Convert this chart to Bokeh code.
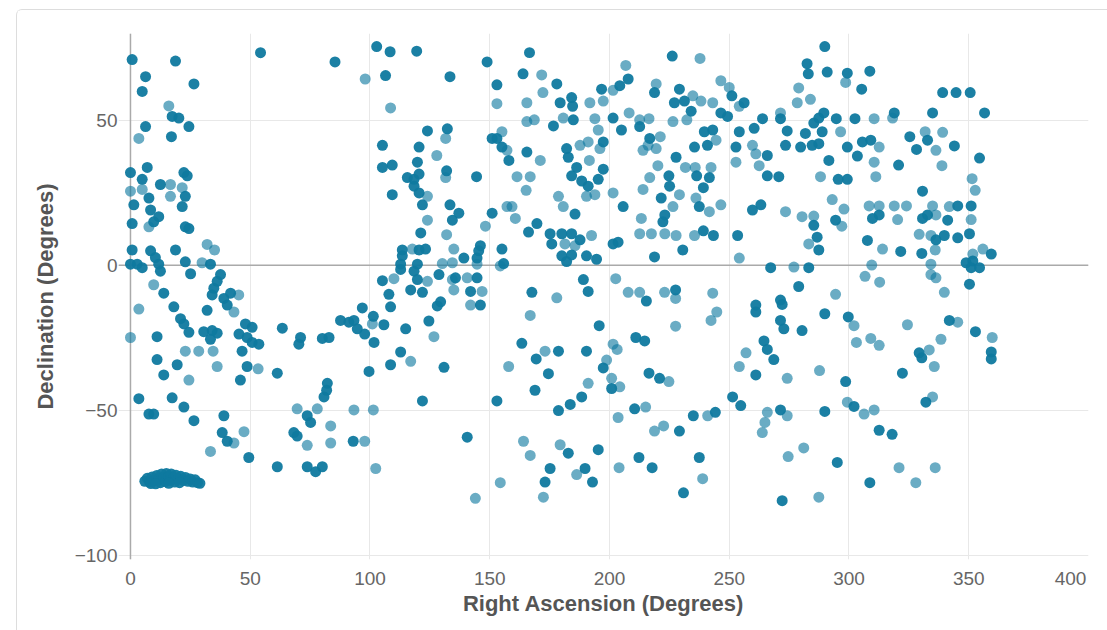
from bokeh.plotting import figure
from bokeh.models import FixedTicker, Span, ColumnDataSource, Spacer
from bokeh.layouts import column, row
from bokeh.embed import file_html
from bokeh.resources import INLINE

# ---- data: Right Ascension / Declination (degrees) ----
# dark (opaque) stars
ra_dark = [0.7, 18.8, 54.3, 85.4, 102.8, 108.4, 119.5, 106.5, 133.4, 6.3, 4.9, 26.5, 17.4, 20.2, 24.4, 6.3, 17.1, 124, 132.3,
           105.2, 120.5, 105.2, 109.3, 119.8, 115.6, 118.4, 120.5, 132, 118.4, 109.3, 120.5, 121.9, 133.4, 134.4, 121.2, 113.5,
           120.5, 123.2, 113.5, 112.8, 119.8, 112.8, 118.4, 128.8, 105.2, 119.8, 117, 121.9, 107.9, 108.6, 129.5, 128.1, 124.6,
           96.8, 101.4, 105.8, 87.7, 91.2, 93.3, 94.7, 97.8, 101.7, 114.9, 112.8, 108.6, 130.9, 99.6, 121.9, 93,
           0, 1.4, 0.7, 0.7, 0, 2.8, 4.9, 7, 4.9, 7.7, 8.4, 11.8, 9.7, 12.5, 22.3, 23.7, 22.9, 21.6, 22.9, 24.4, 8.4, 10.4, 11.8,
           12.5, 18.8, 22.9, 25.1, 33.4, 37.6, 36.2, 34.8, 34.1, 39, 41.8, 40.4, 32, 13.9, 18.1, 20.9, 22.3, 24.4, 30.6, 34.1,
           36.2, 33.4, 45.3, 48, 50.8, 48.7, 50.8, 53.6, 46.6, 48.7, 45.9, 63.4, 71, 70.3, 80.1, 82.9, 61.3, 11.1, 11.1, 19.5,
           13.9, 3.5, 7.7, 9.7, 17.4, 22.3, 26.5, 39, 38.3, 40.4, 49.4, 61.3, 82.2, 81.9, 80.8, 73.8, 75.2, 68.2, 69.6, 73.8,
           77.3, 80.1,
           6, 7, 8, 9, 10, 11, 12, 12.5, 13, 14, 14.5, 15, 16, 16.5, 17, 18, 18.5, 19, 20, 21, 22, 23, 24, 25, 26, 27, 28, 29,
           8.5, 10.5, 20.5, 16,
           148.9, 166.6, 163.9, 153, 178, 179.4, 184.2, 184.6, 176.6, 184.9, 196.7, 204.3, 207.8, 201.5, 205, 212.6, 218.8,
           226.2, 229.2, 227.1, 231.3, 234.1, 251.1, 256.2, 246.5, 249.3, 239.6, 243.1, 240.9, 235.5, 254.2, 260.4, 263.9,
           252.8, 265.9, 265.9, 259.7, 263.2, 253.5, 267.3, 216.8, 227.8, 224.8, 225.1, 236.4, 241.7, 239.2, 221.6, 237.5,
           223.1, 222.3, 239.2, 243.4, 230.6, 218.8, 205.7, 185.6, 182.1, 182.8, 186.3, 184.2, 188.4, 197.4, 197.4, 195.3,
           191.1, 165.5, 153, 151, 155.1, 158, 144.5, 151, 166.2, 169.7, 175.2, 180.1, 184.2, 187.7, 175.9, 180.1, 182.1,
           184.2, 190.4, 194.6, 201.5, 203.6, 146.1, 145.4, 155.1, 155.8, 137.1, 139.2, 144.7, 135.7, 144.7, 142, 146.1,
           140.6, 153, 163.4, 169.4, 178.7, 174.5, 168.9, 167.6, 189.1, 191.1, 195.7, 190.4, 197.4, 200.9, 188.4, 183.6,
           178.7, 182.8, 195.3, 175.2, 173.1, 189.8, 192.9, 227.6, 215.4, 211, 214.7, 216.5, 220.9, 210.5, 229.2, 235,
           244.2, 212.3, 217.8, 237.5, 230.9, 251.4, 254.8, 261.1, 264.5, 265.9, 261.1, 261.1,
           289.9, 282.5, 283, 290.9, 299.3, 308.7, 305.3, 339.1, 344.7, 350.6, 356.6, 334.9, 318.9, 302.5, 294.7, 289.5,
           287.4, 285.3, 271.4, 274.2, 273.5, 279.8, 281.8, 284.6, 287.4, 288.8, 299.3, 303.5, 305.6, 309.1, 291.6, 270.7,
           295.5, 299.3, 320.7, 325.4, 328.2, 332.8, 344, 354.5, 330.7, 285.3, 286.7, 287.4, 294.4, 312.6, 309.8, 307.7,
           321.6, 345.4, 351, 330.7, 332.8, 341.2, 336.3, 339.8, 345.4, 350.3, 330.4, 348.9, 351.7, 351, 354.5, 359.4,
           350.3, 283.2, 279, 271.4, 272.1, 271.4, 272.8, 268.6, 280.4, 289.9, 299.7, 341.9, 352.8, 359.4, 359.4, 329.3,
           330.4, 322.3, 298.6, 302.1, 332.1, 271.4, 289.9, 312.6, 318, 295.1, 308.7, 272.1]
dec_dark = [71, 70.5, 73.4, 70.2, 75.5, 73.7, 73.9, 65.5, 65.1, 65.1, 60, 62.6, 51.4, 50.8, 47.9, 47.9, 44.4, 46.4, 47.1,
            41.4, 40.8, 33.8, 34.6, 35.6, 30.3, 29.7, 31.5, 32.6, 27.3, 24.4, 25, 20.9, 20.9, 15.6, 11.2, 5.3,
            5.3, 5.6, 3.3, 0.4, 0.4, -1.4, -2, -3.2, -5.3, -4.9, -8.5, -9.3, -10, -14.3, -12.6, -14, -19.2,
            -14.7, -17.6, -20.5, -19, -19.6, -19, -21.9, -23.7, -26.6, -21.9, -29.9, -34.3, -35.2, -36.6, -46.8, -60.7,
            32, 20.9, 14.4, 5.3, 0.4, 0.4, -0.8, 33.8, 29.7, 23.2, 19.1, 16.8, 15, 27.9, 32, 30.9, 23.8, 20.3, 13.3, 12.7, 5, 2.7, 0.4,
            -2, 5.3, 1.2, -2.9, 0.4, -3.2, -5.5, -7.9, -10.2, -11.4, -9.6, -13.7, -15.5, -9.6, -14.3, -18.4, -20.2, -23.1, -22.9, -22.5,
            -23.4, -25.5, -23.7, -20.2, -21.4, -24.9, -26.6, -27.2, -29.6, -34.9, -39.6, -21.7, -24.9, -27.2, -25.2, -24.9, -37.2, -24.6, -32.5, -34.3,
            -37.8, -46, -51.3, -51.3, -45.7, -48.9, -53.6, -51.9, -57.7, -60.7, -66.3, -69.5, -40.7, -43.1, -45.4, -51.9, -54.2, -57.7, -58.9, -69.5,
            -71.2, -69.5,
            -74.5, -73.5, -74.8, -73, -74.2, -72.5, -73.6, -75, -72, -73.2, -74.6, -71.8, -72.8, -74.2, -72, -73.3, -74.8, -72.4, -73.6, -72.8,
            -74.2, -73.2, -74.5, -73.7, -74.8, -74, -75, -75.2,
            -75.3, -75.4, -75, -75.2,
            70.2, 73.4, 66.1, 62.3, 62.6, 56.1, 57.9, 54.9, 48.1, 50.2, 60.8, 62, 64.3, 50.8, 46.7, 47.9, 59.6,
            72.2, 60.8, 56.1, 56.7, 53.2, 58.5, 56.1, 52.6, 51.4, 46.1, 46.7, 41.4, 40.8, 46.1, 47.3, 50.6,
            40.8, 37.9, 30.9, 19.1, 20.9, 10.3, -0.8, 43.8, 37.3, 30.9, 27.3, 30.9, 30.3, 26.8, 23.2, 20.3,
            17.4, 15, 11.9, 10.3, 5.3, 2.9, 20.3, 17.7, 40.3, 37.3, 33.8, 30.9, 29.1, 42.6, 33.2, 29.7,
            27.3, 39.1, 43.8, 43.8, 40.8, 36.2, 30.6, 18, 11.5, 14.4, 10.9, 10.9, 10.9, 8.8, 7.4, 3.3, 1.3,
            3.6, 3.3, 2.1, 7.4, 8, 6.8, 5, 5.6, 0.6, 18, 2.5, 2.5, -4.3, -4.3, -9, -13.7,
            -59.3, -46.8, -26.9, -32.3, -29.6, -37.4, -43.1, -9.3, -4.9, -9, -20.8, -29.6, -35.4, -42.5, -45.4, -48,
            -50.1, -64.8, -63.6, -70.1, -74.8, -70.1, -74.8, -8.5, -12.3, -24.9, -26.1, -37.2, -39, -49.5, -57.2, -51.9,
            -50.7, -66.3, -69.8, -66.3, -78.5, -45.4, -48.4, -37.8, -26.1, -29, -13.7, -16.1,
            75.5, 69.6, 66.1, 66.7, 66.3, 67, 60.8, 59.6, 59.6, 59.6, 52.6, 52.6, 52.6, 50.6, 50.6, 52.6,
            50.8, 49.1, 50.6, 46.4, 41.4, 40.8, 45.5, 41.4, 42, 46.1, 40.8, 37.7, 42.6, 43.2, 36.2, 30.6,
            29.7, 29.7, 34.6, 44.4, 40, 43.2, 41.2, 37, 25.6, 13.8, 9.7, 5.3, 15.6, 17.4, 16.2, 8.6,
            4.8, 20.5, 20.5, 16.2, 17.4, 15.6, 8.8, 10.3, 9.5, 10.9, 4.1, 0.9, 1.5, -0.8, -0.8, 3.9,
            -6.5, -0.8, -7.3, -12, -13.5, -19, -21.9, -32.5, -22.5, -16.7, -17.8, -19, -22.9, -29.9, -32.3, -30.2,
            -31.9, -37.2, -40.1, -48.7, -47.2, -49.9, -50.4, -56.9, -58.3, -68, -75, -81.2]

# light (semi-transparent) stars
ra_light = [98, 108.6, 16, 3.5, 131.6, 127.9, 131.6, 124, 124, 132, 117.7, 135, 130.2, 134.4, 110, 124, 134.4, 135, 101,
            126.7, 117, 93.3, 101.4, 97.8, 102.4,
            0, 4.9, 7.7, 16.7, 21.6, 16.7, 32, 35.1, 29.9, 45.2, 43.2, 9.7, 3.5, 53.3, 0, 22.9, 28.5, 34.5, 36.2, 24.4, 43.2,
            47.4, 33.4, 69.6, 78, 83.6, 73.8, 83.6,
            171.7, 153, 172.2, 165.5, 165.5, 168.6, 180.7, 191.8, 197.4, 201.5, 206.8, 193.9, 195.3, 208.2, 212.6, 216.5,
            219.5, 237.8, 234.8, 238.2, 226.5, 232.3, 243.1, 246.5, 250, 254.2, 244.5, 259.7, 252.8, 261.1, 262.5, 254.2,
            216.1, 221.2, 214, 219.5, 220.2, 216.8, 231.7, 235.8, 242.4, 229.2, 214, 236.1, 241.7, 246.5, 226.5, 213.3,
            212.6, 217.5, 223.1, 227.8, 235.5, 201.5, 193.9, 190.4, 187.7, 191.1, 196, 191.6, 178.7, 180.7, 171.1, 161.4,
            166.9, 165.2, 155.1, 157.2, 157.2, 159.3, 160.7, 148.2, 181.4, 185.6, 192.5, 154.4, 144.7, 140.6, 146.8, 142,
            144, 154.4, 157.9, 173.1, 178, 166.9, 201.5, 203.2, 198.8, 200.9, 191.1, 204.3, 164.1, 166.9, 179.4, 172.4,
            186.3, 202.6, 207.8, 212.6, 223, 227.6, 243.1, 244.8, 242.4, 227.6, 224.8, 215.1, 203.6, 218.8, 222.6, 241,
            204, 238.9, 254.2, 257, 265.9, 264.9, 263.8,
            298.6, 279, 278.4, 283.9, 318.2, 310.5, 271.4, 296.5, 312.6, 310.5, 288.1, 311.2, 331.8, 339.1, 336.3, 338.8,
            351.4, 352.7, 273.5, 280.4, 285.3, 283.2, 293, 297.9, 297, 308.4, 312.6, 318.9, 324, 320.3, 314, 334.9,
            341.9, 336.3, 351, 329.3, 334.2, 336, 334.2, 334.2, 336.3, 355.9, 351.7, 277, 294.4, 309.5, 306.7, 312.8,
            339.8, 302.1, 303.1, 309.1, 312.6, 324.4, 345.4, 338.4, 359.8, 333.5, 335.6, 274.2, 287.7, 299.3, 306.3,
            310.5, 334.9, 274.2, 274.6, 281.1, 320.9, 327.9, 336, 287.4]
dec_light = [64.3, 54.3, 55, 43.8, 43.8, 37.9, 30.3, 23.8, 15.6, 10.6, 5.6, 5.6, 0.6, 0.9, -4.6, -5.5, -4.9, -8.5, -20.2,
             -24.6, -33.1, -49.9, -49.9, -60.7, -70.1,
             25.6, 26.2, 13.3, 27.9, 26.8, 23.8, 7.2, 5.3, 0.9, -10.2, -16.1, -6.7, -15.1, -35.7, -24.9, -29.6, -29.6, -29.6, -34.9, -39.6, -61.3,
             -57.4, -64.2, -49.5, -49.5, -55.4, -62.1, -61.3,
             65.7, 55.8, 59.6, 56.1, 49.6, 50.2, 50.8, 56.1, 56.7, 60.4, 69, 50.6, 46.7, 52.6, 50.2, 50.6,
             62.6, 71.4, 58.5, 56.7, 49.6, 50.2, 56.1, 63.7, 61.4, 54.9, 43.2, 41.4, 35.6, 38.5, 34.4, 2.5,
             41.4, 44.4, 39.7, 40.3, 34.4, 30.3, 33.8, 33.8, 33.8, 24.4, 26.2, 23.2, 18.5, 20.9, 20.3, 16.2,
             10.9, 10.9, 10.9, 10.3, 10.3, 25, 24.4, 23.8, 41.4, 42.6, 40.3, 36.2, 23.8, 20.3, 36.2, 30.6,
             30.6, 25.9, 46.1, 39.7, 20.3, 20.3, 16.2, 13.5, 7.4, 6.8, 10.3, -0.2, 0.4, -4.3, -9, -13.7,
             -80.4, -75, -34.9, -29.6, -11.2, -17.3, -27.2, -29, -32.7, -39, -40.7, -41.9, -60.7, -65.6, -61.9, -80,
             -72.2, -4.6, -9.3, -9.3, -9.3, -11.4, -9.6, -16.1, -19, -21, -40.1, -48.9, -52.5, -57.2, -55.4, -51.9,
             -69.8, -73.6, -34.9, -30.2, -50.7, -54.2, -57.7,
             63.1, 61.2, 56.1, 57.3, 50.8, 50.6, 52.6, 46.1, 40.8, 35.6, 30.6, 30.6, 46.1, 45.9, 39.7, 34.4,
             29.9, 25.9, 18.5, 16.8, 17, 7.4, 22.7, 19.4, 13.5, 20.5, 20.5, 20.5, 20.5, 15.8, 5.6, 20.5,
             20.3, 17.4, 15.8, 10.7, 10.3, 5.3, 0.4, -3.2, -4.3, 5.6, 3.9, -0.6, -10, 0.1, -3.8, -5.8,
             -9.3, -20.8, -26.6, -25.2, -27.6, -20.5, -19.6, -25.5, -24.9, -29.2, -34.9, -39, -36.3, -47.2, -51.3,
             -49.9, -45.4, -51.9, -66, -63, -69.8, -75, -69.8, -80]

x_ticks = [0, 50, 100, 150, 200, 250, 300, 350, 400]
y_ticks = [-100, -50, 0, 50]

POINT = "#0f799f"
FONT = "Liberation Sans"

p = figure(width=1091, height=621, x_range=(-5, 400), y_range=(-101.5, 80),
           output_backend="svg", toolbar_location=None,
           min_border_left=101, min_border_right=20, min_border_top=23, min_border_bottom=72,
           background_fill_color="white", border_fill_color="white")
p.outline_line_color = None

for g in (p.xgrid, p.ygrid):
    g.grid_line_color = "#e8e8e8"
    g.grid_line_width = 1

p.xaxis.ticker = FixedTicker(ticks=x_ticks)
p.yaxis.ticker = FixedTicker(ticks=y_ticks)
for ax in (p.xaxis, p.yaxis):
    ax.axis_line_color = None
    ax.major_tick_line_color = None
    ax.minor_tick_line_color = None
    ax.major_label_text_font = FONT
    ax.major_label_text_font_size = "19px"
    ax.major_label_text_color = "#666666"
    ax.axis_label_text_font = FONT
    ax.axis_label_text_font_size = "22px"
    ax.axis_label_text_font_style = "bold"
    ax.axis_label_text_color = "#555555"

p.xaxis.axis_label = "Right Ascension (Degrees)"
p.yaxis.axis_label = "Declination (Degrees)"
p.xaxis.major_label_standoff = 2
p.xaxis.axis_label_standoff = -1
p.yaxis.major_label_standoff = -5
p.yaxis.axis_label_standoff = 14
# the last x tick label sits right-aligned at the frame edge, as in the original
p.xaxis.major_label_overrides = {400: "400" + "\u00a0" * 4}

p.add_layout(Span(location=0, dimension="height", line_color="#aaaaaa", line_width=1.5, level="underlay"))
p.add_layout(Span(location=0, dimension="width", line_color="#aaaaaa", line_width=1.5, level="underlay"))

src_light = ColumnDataSource(dict(x=ra_light, y=dec_light))
src_dark = ColumnDataSource(dict(x=ra_dark, y=dec_dark))
p.scatter("x", "y", source=src_light, size=11, fill_color=POINT, fill_alpha=0.62, line_color=None)
p.scatter("x", "y", source=src_dark, size=11, fill_color=POINT, fill_alpha=0.95, line_color=None)

p.styles = {"border-left": "1px solid #dddddd", "border-top": "1px solid #dddddd",
            "border-top-left-radius": "6px"}

layout = column(Spacer(height=9, width=1107), row(Spacer(width=16, height=621), p), spacing=0)

open("out.html", "w").write(file_html(layout, INLINE))
